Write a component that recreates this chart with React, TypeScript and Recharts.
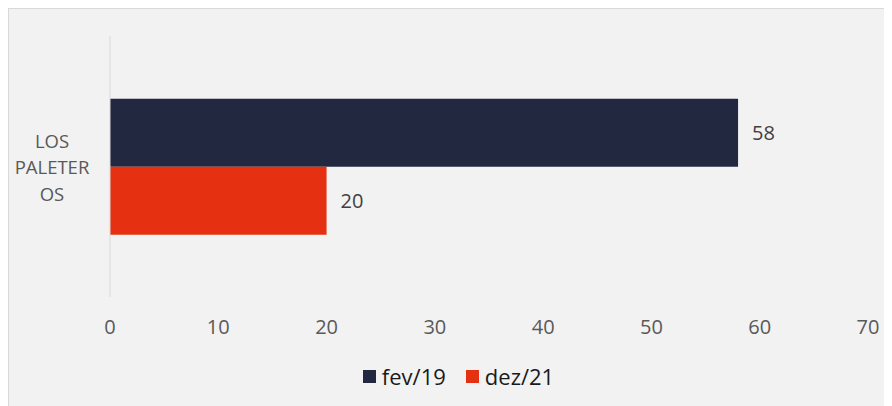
import React from 'react';
import { BarChart, Bar, XAxis, YAxis, Legend, LabelList } from 'recharts';

const categories = ['LOS PALETEROS'];
const categoryLines = [['LOS', 'PALETER', 'OS']];
const seriesNames = ['fev/19', 'dez/21'];
const fev19 = [58];
const dez21 = [20];
const xTicks = [0, 10, 20, 30, 40, 50, 60, 70];
const colors = ['#222840', '#e53012'];

const data = categories.map((c, i) => ({ name: c, fev19: fev19[i], dez21: dez21[i], idx: i }));

const FONT = '"Open Sans", sans-serif';

const YTick = (props: any) => {
  const { y, index } = props;
  const lines = categoryLines[index] || [String(props.payload.value)];
  const lh = 26.5;
  const start = y - ((lines.length - 1) * lh) / 2;
  return (
    <g>
      {lines.map((l: string, k: number) => (
        <text key={k} x={43} y={start + k * lh} textAnchor="middle" dominantBaseline="central" fill="#595959" fontSize={18.5} fontFamily={FONT}>
          {l}
        </text>
      ))}
    </g>
  );
};

const XTick = (props: any) => {
  const { x, payload } = props;
  return (
    <text x={x} y={317} textAnchor="middle" dominantBaseline="central" fill="#595959" fontSize={20} fontFamily={FONT}>
      {payload.value}
    </text>
  );
};

const LegendContent = () => (
  <div style={{ display: 'flex', justifyContent: 'center', alignItems: 'center', fontFamily: FONT, fontSize: 22, color: '#1a1a1a', height: 30, paddingLeft: 30 }}>
    {seriesNames.map((s, i) => (
      <div key={s} style={{ display: 'flex', alignItems: 'center', marginRight: i === 0 ? 20 : 0 }}>
        <div style={{ width: 13, height: 13, background: colors[i], marginRight: 6 }} />
        <span>{s}</span>
      </div>
    ))}
  </div>
);

export default function App() {
  return (
    <div style={{ width: 900, height: 410, border: '1px solid #d9d9d9', background: '#f2f2f2' }}>
      <BarChart
        width={884}
        height={397}
        data={data}
        layout="vertical"
        margin={{ top: 27, right: 25, bottom: 15, left: 10 }}
        barCategoryGap="24%"
        barGap={0}
      >
        <XAxis type="number" domain={[0, 70]} ticks={xTicks} axisLine={false} tickLine={false} tick={<XTick />} height={64} />
        <YAxis type="category" dataKey="name" width={91} axisLine={{ stroke: '#d9d9d9', strokeWidth: 1 }} tickLine={false} tick={<YTick />} />
        <Legend verticalAlign="bottom" content={<LegendContent />} wrapperStyle={{ height: 30 }} />
        <Bar dataKey="fev19" name={seriesNames[0]} fill={colors[0]} isAnimationActive={false}>
          <LabelList dataKey="fev19" position="right" offset={14} fill="#404040" fontSize={20} fontFamily={FONT} />
        </Bar>
        <Bar dataKey="dez21" name={seriesNames[1]} fill={colors[1]} isAnimationActive={false}>
          <LabelList dataKey="dez21" position="right" offset={14} fill="#404040" fontSize={20} fontFamily={FONT} />
        </Bar>
      </BarChart>
    </div>
  );
}
